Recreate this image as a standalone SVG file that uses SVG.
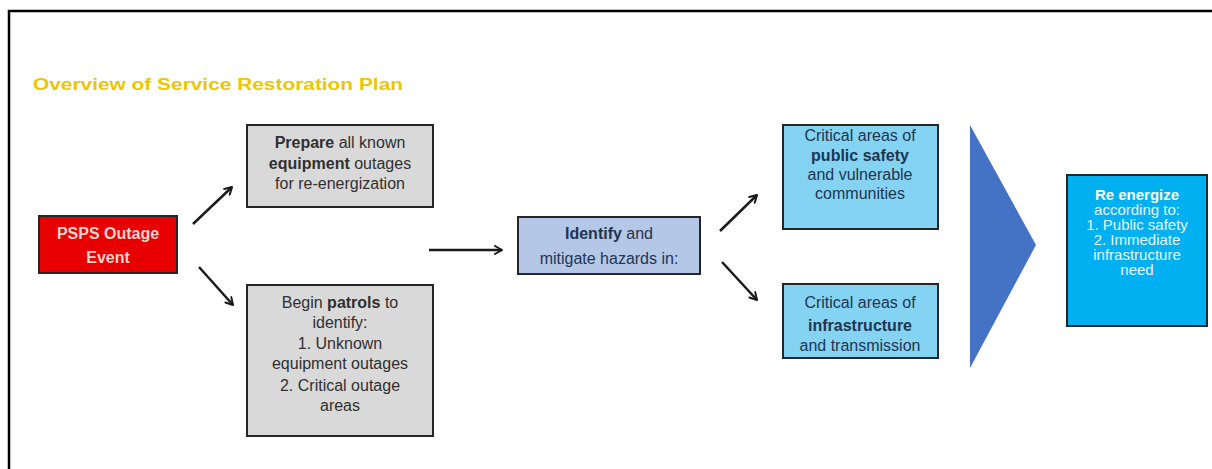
<svg xmlns="http://www.w3.org/2000/svg" width="1212" height="469" viewBox="0 0 1212 469">
<defs>
<marker id="chev" viewBox="0 0 10 10" refX="9" refY="5" markerWidth="10" markerHeight="10" markerUnits="userSpaceOnUse" orient="auto">
<polyline points="2,1 9,5 2,9" fill="none" stroke="#1a1a1a" stroke-width="2" stroke-linecap="round" stroke-linejoin="round"/>
</marker>
<style>
.box{stroke:#262626;stroke-width:2}
.t{font-family:"Liberation Sans",Arial,sans-serif;font-size:16px;text-anchor:middle;fill:#303030}
.tb{fill:#1f3550}
.b{font-weight:bold}
.conn line{stroke:#1a1a1a;stroke-width:2.5;marker-end:url(#chev)}
</style>
</defs>
<rect width="1212" height="469" fill="#ffffff"/>
<path d="M9,469 V11 H1212" fill="none" stroke="#000" stroke-width="2.5"/>
<text x="33" y="90" font-family="Liberation Sans,Arial,sans-serif" font-size="16" font-weight="bold" fill="#ecc600" textLength="370" lengthAdjust="spacingAndGlyphs">Overview of Service Restoration Plan</text>

<g id="psps">
<rect class="box" x="39" y="216" width="138" height="57" fill="#e60000"/>
<text class="t b" x="108" y="239" style="fill:#f6d6cc">PSPS Outage</text>
<text class="t b" x="108" y="263" style="fill:#f6d6cc">Event</text>
</g>

<g id="prepare">
<rect class="box" x="247" y="125" width="186" height="82" fill="#d9d9d9"/>
<text class="t" x="340" y="148"><tspan class="b">Prepare</tspan> all known</text>
<text class="t" x="340" y="169"><tspan class="b">equipment</tspan> outages</text>
<text class="t" x="340" y="189">for re-energization</text>
</g>

<g id="patrols">
<rect class="box" x="247" y="285" width="186" height="151" fill="#d9d9d9"/>
<text class="t" x="340" y="308">Begin <tspan class="b">patrols</tspan> to</text>
<text class="t" x="340" y="328">identify:</text>
<text class="t" x="340" y="349">1. Unknown</text>
<text class="t" x="340" y="369">equipment outages</text>
<text class="t" x="340" y="391">2. Critical outage</text>
<text class="t" x="340" y="411">areas</text>
</g>

<g id="identify">
<rect class="box" x="518" y="217" width="182" height="57" fill="#b4c7e7"/>
<text class="t tb" x="609" y="239"><tspan class="b">Identify</tspan> and</text>
<text class="t tb" x="609" y="264">mitigate hazards in:</text>
</g>

<g id="publicsafety">
<rect class="box" x="783" y="125" width="155" height="104" fill="#85d3f2"/>
<text class="t tb" x="860" y="141">Critical areas of</text>
<text class="t tb b" x="860" y="161">public safety</text>
<text class="t tb" x="860" y="180">and vulnerable</text>
<text class="t tb" x="860" y="199">communities</text>
</g>

<g id="infrastructure">
<rect class="box" x="783" y="284" width="155" height="74" fill="#85d3f2"/>
<text class="t tb" x="860" y="308">Critical areas of</text>
<text class="t tb b" x="860" y="331">infrastructure</text>
<text class="t tb" x="860" y="351">and transmission</text>
</g>

<g id="chevron">
<polygon points="970,125 1036,245 970,368" fill="#4472c4"/>
</g>

<g id="reenergize">
<rect class="box" x="1067" y="175" width="140" height="151" fill="#00b0f0"/>
<g style="font-family:'Liberation Sans',Arial,sans-serif;font-size:15px;text-anchor:middle;fill:#eaf6fc">
<text x="1137" y="200" font-weight="bold" fill="#ffffff">Re energize</text>
<text x="1137" y="215">according to:</text>
<text x="1137" y="230">1. Public safety</text>
<text x="1137" y="245">2. Immediate</text>
<text x="1137" y="260">infrastructure</text>
<text x="1137" y="275">need</text>
</g>
</g>

<g id="connectors" class="conn">
<line x1="193" y1="224" x2="232" y2="187"/>
<line x1="199" y1="267" x2="233" y2="305"/>
<line x1="429" y1="250" x2="502" y2="250"/>
<line x1="720" y1="231" x2="757" y2="195"/>
<line x1="722" y1="262" x2="757" y2="300"/>
</g>
</svg>
